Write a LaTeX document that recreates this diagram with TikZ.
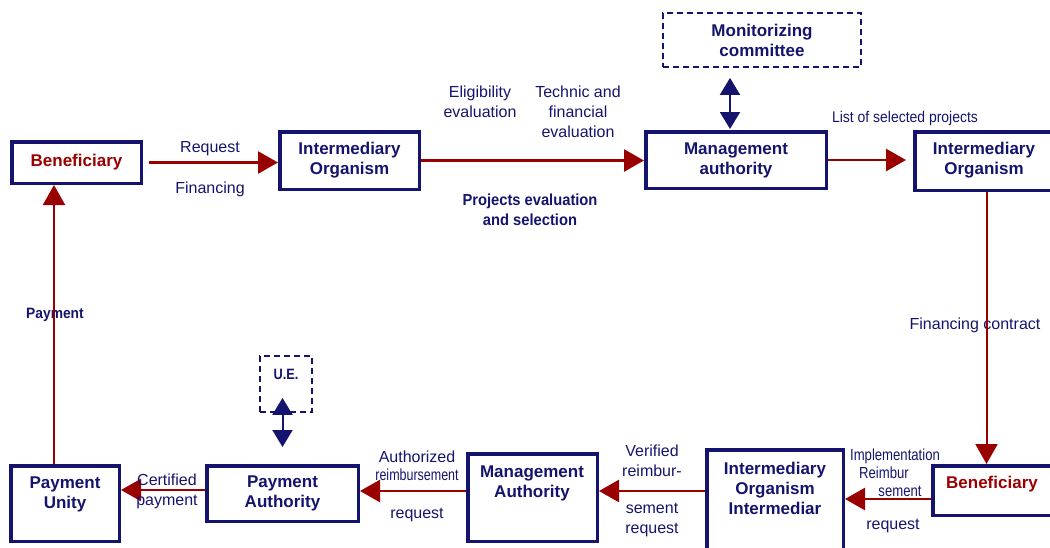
\documentclass[tikz,border=0pt]{standalone}
\usepackage{fontspec}
\setmainfont{Liberation Sans}
\usetikzlibrary{arrows.meta}
\definecolor{navy}{RGB}{20,20,110}
\definecolor{darkred}{RGB}{153,0,0}
\begin{document}
\begin{tikzpicture}[x=1pt,y=-1pt,
  box/.style={draw=navy, line width=3.5pt, text=navy, align=center, inner sep=0pt,
    font=\fontsize{17}{20}\selectfont\bfseries},
  dbox/.style={draw=navy, line width=1.8pt, dash pattern=on 6pt off 4pt, text=navy,
    align=center, inner sep=0pt, font=\fontsize{17}{20}\selectfont\bfseries},
  boxtext/.style={text=navy, align=center, inner sep=0pt, font=\fontsize{17}{20}\selectfont\bfseries},
  lbl/.style={text=navy, align=center, inner sep=0pt, font=\fontsize{16}{20}\selectfont},
  blbl/.style={text=navy, align=center, inner sep=0pt, font=\fontsize{16}{20}\selectfont\bfseries},
  flow/.style={draw=darkred, line width=2.6pt, -{Triangle[length=20pt,width=22pt]}},
  vflow/.style={flow, line width=2pt},
  link/.style={draw=navy, line width=2pt,
    {Triangle[length=17pt,width=20pt]}-{Triangle[length=17pt,width=20pt]}},
]
\useasboundingbox (0,0) rectangle (1050,547);
\clip (0,0) rectangle (1050,547);

% ---- top row: selection of projects ----
\node[box, minimum width=129.5pt, minimum height=41.5pt, text=darkred] (ben1) at (76.5,162.5) {Beneficiary};
\node[box, minimum width=139.5pt, minimum height=57.5pt] (io1) at (349.5,160.5) {Intermediary\\Organism};
\node[box, minimum width=180.5pt, minimum height=56.5pt] (ma1) at (736,160) {Management\\authority};
\node[dbox, minimum width=198pt, minimum height=54pt] (mon) at (762,40) {Monitorizing\\committee};
\node[box, minimum width=143.5pt, minimum height=58.5pt] (io2) at (986.5,161) {};
\node[boxtext] (io2t) at (984,160) {Intermediary\\Organism};

\draw[flow, shorten <=6pt] (ben1.east) -- (ben1.east -| io1.west);
\draw[flow] (io1.east) -- (io1.east -| ma1.west);
\draw[flow, shorten >=7pt] (ma1.east) -- (ma1.east -| io2.west);
\draw[link, shorten <=1pt, shorten >=10pt] ([xshift=-6pt]ma1.north) -- ([xshift=-6pt]ma1.north |- mon.south);

\node[lbl] (req1) at (210,149) {Request};
\node[lbl] (fin1) at (210,189) {Financing};
\node[lbl] (elig) at (480,102) {Eligibility\\evaluation};
\node[lbl] (tech) at (578,112) {Technic and\\financial\\evaluation};
\node[blbl] (proj) at (530,210) {\scalebox{0.92}[1]{Projects evaluation}\\\scalebox{0.92}[1]{and selection}};
\node[lbl, font=\fontsize{15.5}{20}\selectfont] (list) at (905,118) {\scalebox{0.9}[1]{List of selected projects}};

% ---- right side: contract ----
\node[box, minimum width=125.5pt, minimum height=49.5pt] (ben2) at (995.5,490.5) {};
\node[boxtext, text=darkred] (ben2t) at (992,484) {Beneficiary};
\node[lbl] (fcon) at (975,325) {Financing contract};
\draw[vflow] (io2.south) -- (io2.south |- ben2.north);

% ---- bottom row: reimbursement ----
\node[box, minimum width=136.5pt, minimum height=108.5pt] (io3) at (775,504) {};
\node[boxtext] (io3t) at (775,488) {Intermediary\\Organism\\Intermediar};
\node[box, minimum width=129.5pt, minimum height=87.5pt] (ma2) at (532.5,497.5) {};
\node[boxtext] (ma2t) at (532,483) {Management\\Authority};
\node[box, minimum width=151.5pt, minimum height=55.5pt] (pa) at (282.5,493.5) {Payment\\Authority};
\node[box, minimum width=108.5pt, minimum height=75.5pt] (pu) at (65,503.5) {};
\node[boxtext] (put) at (65,494) {Payment\\Unity};
\node[dbox, minimum width=52pt, minimum height=56pt] (ue) at (286,384) {};
\node[boxtext, font=\fontsize{15}{18}\selectfont\bfseries] (uet) at (286,374) {\scalebox{0.85}[1]{U.E.}};

\node[blbl, font=\fontsize{15}{18}\selectfont\bfseries] (pay) at (55,315) {\scalebox{0.92}[1]{Payment}};

\draw[flow] ([yshift=-8.5pt]ben2.west) -- ([yshift=-8.5pt]ben2.west -| io3.east);
\draw[flow] ([yshift=13pt]io3.west) -- ([yshift=13pt]io3.west -| ma2.east);
\draw[flow] ([yshift=6.5pt]ma2.west) -- ([yshift=6.5pt]ma2.west -| pa.east);
\draw[flow] ([yshift=3.5pt]pa.west) -- ([yshift=3.5pt]pa.west -| pu.east);
\draw[vflow] ([xshift=-11pt]pu.north) -- ([xshift=-11pt]pu.north |- ben1.south);
\draw[link, shorten <=17pt, shorten >=-15pt] (pa.north) -- (pa.north |- ue.south);

\node[lbl] (impl) at (895,473) {\scalebox{0.82}[1]{Implementation}\\[-2pt]\hspace*{-22pt}\scalebox{0.82}[1]{Reimbur}\\[-2pt]\hspace*{10pt}\scalebox{0.82}[1]{sement}};
\node[lbl] (req4) at (893,526) {request};
\node[lbl] (ver) at (652,461) {Verified\\reimbur-};
\node[lbl] (ver2) at (652,520) {sement\\request};
\node[lbl] (auth) at (417,466) {Authorized\\[-2pt]\scalebox{0.78}[1]{reimbursement}};
\node[lbl] (req2) at (417,515) {request};
\node[lbl] (cert) at (167,491) {Certified\\payment};
\end{tikzpicture}
\end{document}
